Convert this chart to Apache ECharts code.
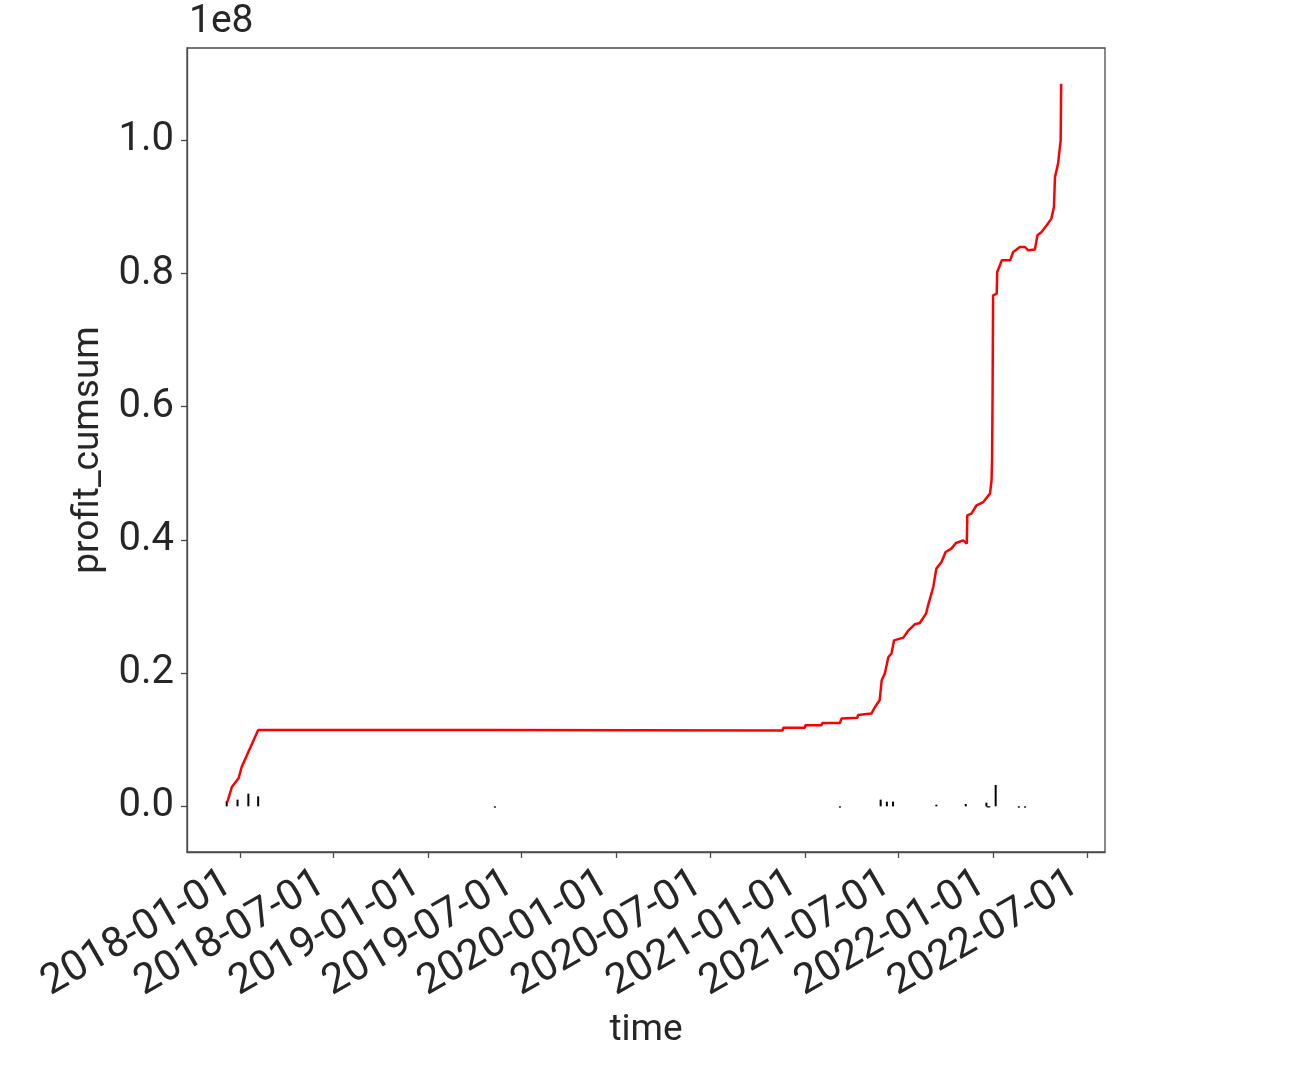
<!DOCTYPE html>
<html>
<head>
<meta charset="utf-8">
<script src="https://cdn.jsdelivr.net/npm/echarts@6/dist/echarts.min.js"></script>
<style>
html,body{margin:0;padding:0;background:#fff;}
#chart{width:1300px;height:1076px;}
</style>
</head>
<body>
<div id="chart"></div>
<script>
const lineDates = ['2017-12-07','2017-12-16','2017-12-29','2018-01-04','2018-02-05','2019-05-09','2019-05-11','2020-11-18','2020-11-19','2020-12-31','2021-01-01','2021-02-01','2021-02-03','2021-03-09','2021-03-10','2021-03-12','2021-04-12','2021-04-13','2021-05-09','2021-05-16','2021-05-25','2021-05-29','2021-06-04','2021-06-11','2021-06-17','2021-06-22','2021-07-10','2021-07-20','2021-08-01','2021-08-11','2021-08-23','2021-08-27','2021-09-06','2021-09-12','2021-09-22','2021-09-30','2021-10-11','2021-10-20','2021-11-03','2021-11-10','2021-11-11','2021-11-19','2021-11-29','2021-12-12','2021-12-25','2021-12-28','2021-12-29','2021-12-30','2021-12-31','2022-01-07','2022-01-08','2022-01-17','2022-02-02','2022-02-08','2022-02-21','2022-03-03','2022-03-09','2022-03-22','2022-03-27','2022-04-04','2022-04-14','2022-04-23','2022-04-28','2022-04-30','2022-05-06','2022-05-11','2022-05-12'];
const profitCumsum = [0.6e6,2.9e6,4.2e6,5.9e6,11.45e6,11.45e6,11.4e6,11.4e6,11.8e6,11.8e6,12.16e6,12.16e6,12.5e6,12.51e6,12.42e6,13.17e6,13.3e6,13.7e6,13.92e6,14.91e6,15.92e6,18.92e6,19.92e6,22.42e6,22.93e6,24.92e6,25.33e6,26.43e6,27.33e6,27.52e6,28.93e6,30.18e6,32.93e6,35.69e6,36.68e6,38.18e6,38.69e6,39.53e6,39.94e6,39.44e6,43.69e6,43.95e6,45.2e6,45.69e6,46.95e6,48.95e6,51.95e6,61.97e6,76.73e6,76.98e6,80.23e6,81.98e6,81.98e6,83.23e6,83.98e6,83.98e6,83.48e6,83.59e6,85.74e6,86.23e6,87.24e6,88.24e6,89.99e6,94.49e6,96.5e6,100.0e6,108.5e6];

const barDates = ['2017-12-06','2017-12-27','2018-01-17','2018-02-05','2019-05-10','2021-03-09','2021-05-27','2021-06-08','2021-06-20','2021-09-12','2021-11-08','2021-12-18','2021-12-20','2021-12-22','2021-12-24','2022-01-05','2022-02-19','2022-03-03'];
const profitValues = [0.8e6,1.0e6,1.9e6,1.5e6,-0.2e6,-0.2e6,1.0e6,0.7e6,0.7e6,0.25e6,0.35e6,0.55e6,-0.15e6,-0.15e6,-0.15e6,3.2e6,-0.2e6,-0.2e6];

const xTickDates = ['2018-01-01','2018-07-01','2019-01-01','2019-07-01','2020-01-01','2020-07-01','2021-01-01','2021-07-01','2022-01-01','2022-07-01'];
const yTickValues = [0, 0.2e8, 0.4e8, 0.6e8, 0.8e8, 1.0e8];
const xRange = ['2017-09-20', '2022-08-05'];
const yRange = [-6.86e6, 113.86e6];

const ts = s => { const p = s.split('-').map(Number); return Date.UTC(p[0], p[1] - 1, p[2]); };
const fmtDate = v => { const d = new Date(v); const z = n => String(n).padStart(2, '0'); return d.getUTCFullYear() + '-' + z(d.getUTCMonth() + 1) + '-' + z(d.getUTCDate()); };
const FONT = 'Roboto, "Noto Sans", sans-serif';
const TXT = '#262626';
const EDGE = '#4a4a4a';

const chart = echarts.init(document.getElementById('chart'), null, {renderer: 'canvas'});
chart.setOption({
  animation: false,
  backgroundColor: '#fff',
  textStyle: {fontFamily: FONT},
  grid: {left: 187, top: 48, right: 195, bottom: 224, show: true, borderColor: EDGE, borderWidth: 1.3, backgroundColor: 'transparent', containLabel: false},
  graphic: [{type: 'text', left: 189, top: 3, style: {text: '1e8', fontSize: 39, fontFamily: FONT, fill: TXT}}],
  xAxis: {
    type: 'value', min: ts(xRange[0]), max: ts(xRange[1]),
    name: 'time', nameLocation: 'middle', nameGap: 160,
    nameTextStyle: {fontSize: 37, color: TXT, fontFamily: FONT},
    axisLine: {show: true, onZero: false, lineStyle: {color: EDGE, width: 1.3}},
    axisTick: {show: true, length: 6, lineStyle: {color: EDGE, width: 1.3}, customValues: xTickDates.map(ts)},
    axisLabel: {rotate: 30, fontSize: 42, color: TXT, margin: 22, padding: [0, 13, 0, 0], fontFamily: FONT,
      customValues: xTickDates.map(ts), formatter: v => fmtDate(v)},
    splitLine: {show: false}
  },
  yAxis: {
    type: 'value', min: yRange[0], max: yRange[1],
    name: 'profit_cumsum', nameLocation: 'middle', nameGap: 80, nameRotate: 90,
    nameTextStyle: {fontSize: 37, color: TXT, fontFamily: FONT},
    axisLine: {show: true, onZero: false, lineStyle: {color: EDGE, width: 1.3}},
    axisTick: {show: true, length: 6, lineStyle: {color: EDGE, width: 1.3}, customValues: yTickValues},
    axisLabel: {fontSize: 40, color: TXT, margin: 13, fontFamily: FONT,
      customValues: yTickValues, formatter: v => (v / 1e8).toFixed(1)},
    splitLine: {show: false}
  },
  series: [
    {type: 'bar', data: barDates.map((d, i) => [ts(d), profitValues[i]]), barWidth: 2,
     itemStyle: {color: '#000'}, z: 2},
    {type: 'line', data: lineDates.map((d, i) => [ts(d), profitCumsum[i]]), showSymbol: false,
     lineStyle: {color: '#ff0000', width: 2.5}, z: 3}
  ]
});
</script>
</body>
</html>
